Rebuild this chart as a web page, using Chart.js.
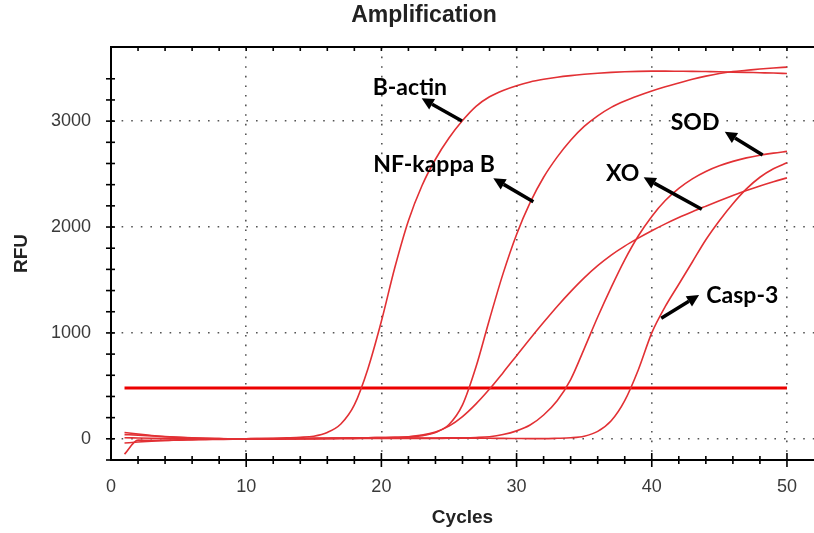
<!doctype html>
<html lang="en">
<head>
<meta charset="utf-8">
<title>Amplification</title>
<script src="https://cdn.jsdelivr.net/npm/chart.js@4.4.0/dist/chart.umd.min.js"></script>
<style>
  html, body { margin: 0; padding: 0; background: #fff; }
  #chartx { width: 814px; height: 533px; }
</style>
</head>
<body>
<div id="chartx"><canvas id="myChart"></canvas></div>

<script>
// cycle numbers and RFU
const cycles = [1, 2, 3, 4, 5, 6, 7, 8, 9, 10, 11, 12, 13, 14, 15, 16, 17, 18, 19, 20,
  21, 22, 23, 24, 25, 26, 27, 28, 29, 30, 31, 32, 33, 34, 35, 36, 37, 38, 39, 40,
  41, 42, 43, 44, 45, 46, 47, 48, 49, 50];

const bActin = [60, 45, 32, 22, 14, 8, 4, 2, 0, 0, 2, 5, 9, 14, 25, 60, 140, 320, 660, 1110,
  1620, 2060, 2390, 2640, 2840, 3005, 3140, 3230, 3290, 3335, 3370, 3395, 3415, 3430, 3442, 3452, 3460, 3466, 3470, 3472,
  3472, 3471, 3470, 3468, 3466, 3463, 3460, 3457, 3454, 3450];

const nfKappaB = [40, 35, 28, 20, 14, 9, 5, 2, 0, -2, -3, -3, -2, 0, 2, 4, 6, 8, 10, 12,
  14, 18, 30, 60, 135, 320, 680, 1130, 1560, 1930, 2230, 2470, 2660, 2820, 2950, 3050, 3130, 3190, 3240, 3285,
  3325, 3360, 3395, 3425, 3450, 3468, 3480, 3492, 3502, 3510];

const xo = [10, 8, 6, 4, 2, 0, -2, -3, -4, -4, -3, -2, 0, 2, 4, 6, 8, 9, 10, 12,
  14, 20, 35, 65, 120, 210, 330, 470, 625, 785, 945, 1100, 1250, 1390, 1520, 1635, 1735, 1820, 1895, 1965,
  2030, 2090, 2145, 2197, 2248, 2297, 2344, 2388, 2428, 2464];

const sod = [-40, -30, -22, -15, -10, -6, -3, -1, 0, 1, 2, 2, 3, 3, 4, 4, 5, 5, 6, 6,
  7, 7, 8, 8, 9, 10, 13, 20, 40, 75, 130, 225, 360, 560, 850, 1150, 1430, 1690, 1915, 2100,
  2250, 2365, 2455, 2525, 2578, 2620, 2653, 2678, 2698, 2714];

const casp3 = [-145, -12, -15, -15, -12, -10, -8, -6, -4, -3, -2, -1, 0, 0, 1, 1, 2, 2, 3, 3,
  3, 4, 4, 4, 5, 5, 5, 5, 4, 3, 2, 2, 5, 10, 25, 70, 170, 360, 650, 1000,
  1250, 1460, 1670, 1880, 2060, 2220, 2360, 2470, 2550, 2607];

// threshold line
const thresholdCycles = [1, 50];
const thresholdRFU = 480;

// gene labels with arrows (data coordinates)
const noteText = ['B-actin', 'NF-kappa B', 'SOD', 'XO', 'Casp-3'];
const noteX = [22.1, 23.9, 43.2, 37.85, 46.7];
const noteY = [3318, 2585, 2991, 2500, 1348];
const arrowFromX = [25.96, 31.24, 48.2, 43.7, 40.7];
const arrowFromY = [3001, 2239, 2680, 2167, 1138];
const arrowToX = [22.98, 28.28, 45.4, 39.4, 43.5];
const arrowToY = [3216, 2460, 2900, 2469, 1358];

const curveColor = 'rgb(226, 48, 52)';
const tickFont = { family: 'Liberation Sans', size: 18 };
const axisTitleFont = { family: 'Liberation Sans', size: 19, weight: 'bold' };

function series(values) {
  return {
    data: cycles.map((c, i) => ({ x: c, y: values[i] })),
    borderColor: curveColor,
    borderWidth: 1.6,
    pointRadius: 0,
    cubicInterpolationMode: 'monotone',
  };
}

const data = {
  datasets: [
    series(bActin),
    series(nfKappaB),
    series(xo),
    series(sod),
    series(casp3),
    {
      data: thresholdCycles.map(c => ({ x: c, y: thresholdRFU })),
      borderColor: 'rgb(236, 0, 0)',
      borderWidth: 3,
      pointRadius: 0,
    },
  ]
};

// ticks crossing the axes, top frame, title
const plotFrame = {
  id: 'plotFrame',
  afterDraw(chart) {
    const { ctx, chartArea: a, scales: { x, y } } = chart;
    ctx.save();
    ctx.strokeStyle = '#000';
    ctx.lineWidth = 2;
    ctx.beginPath();
    ctx.moveTo(a.left, a.top);
    ctx.lineTo(a.right, a.top);
    ctx.stroke();

    ctx.lineWidth = 1.6;
    x.ticks.forEach(t => {
      if (t.value <= 0 || t.value > 50) return;
      const px = x.getPixelForValue(t.value);
      const len = t.value % 10 === 0 ? 7 : 4;
      ctx.beginPath();
      ctx.moveTo(px, a.bottom - len);
      ctx.lineTo(px, a.bottom + len);
      ctx.moveTo(px, a.top);
      ctx.lineTo(px, a.top + 4);
      ctx.stroke();
    });
    y.ticks.forEach(t => {
      if (t.value > 3600) return;
      const py = y.getPixelForValue(t.value);
      ctx.beginPath();
      ctx.moveTo(a.left - 5, py);
      ctx.lineTo(a.left + 4, py);
      ctx.stroke();
    });

    ctx.fillStyle = '#222';
    ctx.font = 'bold 23px "Liberation Sans"';
    ctx.textAlign = 'center';
    ctx.textBaseline = 'middle';
    ctx.fillText('Amplification', 424, 16);
    ctx.restore();
  }
};

// gene names and black arrows
const geneNotes = {
  id: 'geneNotes',
  afterDraw(chart) {
    const { ctx, scales: { x, y } } = chart;
    ctx.save();
    ctx.fillStyle = '#000';
    ctx.strokeStyle = '#000';
    ctx.font = 'bold 23px Lato';
    ctx.textAlign = 'center';
    ctx.textBaseline = 'middle';
    noteText.forEach((txt, i) => {
      ctx.fillText(txt, x.getPixelForValue(noteX[i]), y.getPixelForValue(noteY[i]));

      const x1 = x.getPixelForValue(arrowFromX[i]);
      const y1 = y.getPixelForValue(arrowFromY[i]);
      const x2 = x.getPixelForValue(arrowToX[i]);
      const y2 = y.getPixelForValue(arrowToY[i]);
      const ang = Math.atan2(y2 - y1, x2 - x1);
      const headLen = 12, headW = 6;
      const bx = x2 - headLen * Math.cos(ang);
      const by = y2 - headLen * Math.sin(ang);

      ctx.lineWidth = 3.5;
      ctx.beginPath();
      ctx.moveTo(x1, y1);
      ctx.lineTo(bx, by);
      ctx.stroke();

      ctx.beginPath();
      ctx.moveTo(x2, y2);
      ctx.lineTo(bx + headW * Math.sin(ang), by - headW * Math.cos(ang));
      ctx.lineTo(bx - headW * Math.sin(ang), by + headW * Math.cos(ang));
      ctx.closePath();
      ctx.fill();
    });
    ctx.restore();
  }
};

const config = {
  type: 'line',
  data: data,
  options: {
    responsive: true,
    maintainAspectRatio: false,
    animation: false,
    layout: { padding: { top: 47, right: 0, left: 0, bottom: 0 } },
    scales: {
      x: {
        type: 'linear',
        min: 0,
        max: 52,
        afterFit: s => { s.height = 73; },
        ticks: {
          stepSize: 2,
          autoSkip: false,
          maxRotation: 0,
          padding: 0,
          color: '#3a3a3a',
          font: tickFont,
          callback: v => (v % 10 === 0 && v <= 50 ? v : ''),
        },
        grid: {
          drawTicks: true,
          tickLength: 16,
          tickColor: 'transparent',
          lineWidth: 1.6,
          color: c => (c.tick && c.tick.value % 10 === 0 && c.tick.value > 0 && c.tick.value <= 50 ? '#555' : 'transparent'),
        },
        border: { display: true, color: '#000', width: 2, dash: [1.6, 8] },
        title: {
          display: true,
          text: 'Cycles',
          color: '#222',
          font: axisTitleFont,
          padding: { top: 0, bottom: 4 },
        },
      },
      y: {
        min: -200,
        max: 3700,
        afterFit: s => { s.width = 111; },
        ticks: {
          stepSize: 200,
          autoSkip: false,
          padding: 20,
          color: '#3a3a3a',
          font: tickFont,
          callback: v => (v % 1000 === 0 ? v : ''),
        },
        grid: {
          drawTicks: false,
          lineWidth: 1.6,
          color: c => (c.tick && c.tick.value % 1000 === 0 && c.tick.value >= 0 ? '#555' : 'transparent'),
        },
        border: { display: true, color: '#000', width: 2, dash: [1.6, 8] },
        title: {
          display: true,
          text: 'RFU',
          color: '#222',
          font: axisTitleFont,
          padding: { top: 10, bottom: 0 },
        },
      },
    },
    plugins: {
      legend: { display: false },
      tooltip: { enabled: false },
      title: { display: false },
    },
  },
  plugins: [plotFrame, geneNotes],
};

const myChart = new Chart(document.getElementById('myChart'), config);
</script>
</body>
</html>
